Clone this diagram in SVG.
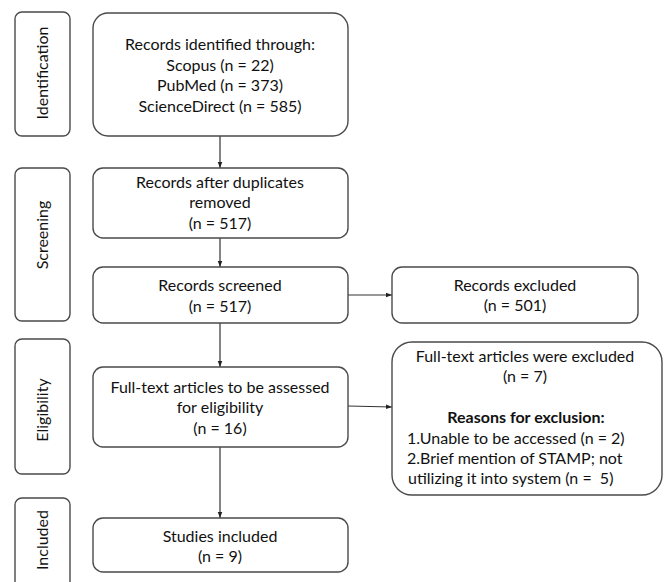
<svg xmlns="http://www.w3.org/2000/svg" width="665" height="582" viewBox="0 0 665 582">
<style>
.box{fill:#fff;stroke:#4a4a4a;stroke-width:1.4}
.t{font-family:Lato,"Open Sans",sans-serif;font-size:16px;fill:#111;text-anchor:middle}
.l{text-anchor:start}
.b{font-weight:bold}
.side{font-family:Lato,"Open Sans",sans-serif;font-size:16px;fill:#111;text-anchor:middle}
.c{stroke:#333;stroke-width:1.2;fill:none;marker-end:url(#ah)}
</style>
<defs>
<marker id="ah" viewBox="0 0 8 8" refX="8" refY="4" markerWidth="6" markerHeight="6" markerUnits="userSpaceOnUse" orient="auto">
<path d="M0,1 L8,4 L0,7 z" fill="#222"/>
</marker>
</defs>
<rect width="665" height="582" fill="#fff"/>
<g id="stage-identification">
<rect class="box" x="15" y="12" width="55" height="124" rx="7"/>
<text class="side" transform="translate(48 73) rotate(-90)">Identification</text>
</g>
<g id="stage-screening">
<rect class="box" x="15" y="168" width="55" height="153" rx="7"/>
<text class="side" transform="translate(48 235) rotate(-90)">Screening</text>
</g>
<g id="stage-eligibility">
<rect class="box" x="15" y="339" width="55" height="135" rx="7"/>
<text class="side" transform="translate(48 410) rotate(-90)">Eligibility</text>
</g>
<g id="stage-included">
<rect class="box" x="15" y="498" width="55" height="100" rx="7"/>
<text class="side" transform="translate(48 540) rotate(-90)">Included</text>
</g>
<g id="connectors">
<line class="c" x1="220" y1="136" x2="220" y2="168"/>
<line class="c" x1="220" y1="238" x2="220" y2="267"/>
<line class="c" x1="220" y1="323" x2="220" y2="367"/>
<line class="c" x1="220" y1="447" x2="220" y2="518"/>
<line class="c" x1="348" y1="295" x2="392" y2="295"/>
<line class="c" x1="348" y1="406" x2="392" y2="407"/>
</g>
<g id="identified">
<rect class="box" x="93" y="13" width="255" height="123" rx="15"/>
<text class="t" x="220" y="50">Records identified through:</text>
<text class="t" x="220" y="71">Scopus (n = 22)</text>
<text class="t" x="220" y="91">PubMed (n = 373)</text>
<text class="t" x="220" y="112">ScienceDirect (n = 585)</text>
</g>
<g id="after-duplicates">
<rect class="box" x="93" y="168" width="255" height="70" rx="10"/>
<text class="t" x="220" y="188">Records after duplicates</text>
<text class="t" x="220" y="208">removed</text>
<text class="t" x="220" y="229">(n = 517)</text>
</g>
<g id="screened">
<rect class="box" x="93" y="267" width="255" height="56" rx="10"/>
<text class="t" x="220" y="291">Records screened</text>
<text class="t" x="220" y="312">(n = 517)</text>
</g>
<g id="excluded">
<rect class="box" x="392" y="267" width="246" height="56" rx="10"/>
<text class="t" x="515" y="291">Records excluded</text>
<text class="t" x="515" y="311">(n = 501)</text>
</g>
<g id="full-text">
<rect class="box" x="93" y="367" width="255" height="80" rx="10"/>
<text class="t" x="220" y="393">Full-text articles to be assessed</text>
<text class="t" x="220" y="413">for eligibility</text>
<text class="t" x="220" y="434">(n = 16)</text>
</g>
<g id="full-text-excluded">
<rect class="box" x="392" y="342" width="270" height="153" rx="20"/>
<text class="t" x="525" y="362">Full-text articles were excluded</text>
<text class="t" x="525" y="382">(n = 7)</text>
<text class="t b" x="526" y="423">Reasons for exclusion:</text>
<text class="t l" x="407" y="444">1.Unable to be accessed (n = 2)</text>
<text class="t l" x="407" y="464">2.Brief mention of STAMP; not</text>
<text class="t l" x="408" y="484" xml:space="preserve">utilizing it into system (n =  5)</text>
</g>
<g id="included">
<rect class="box" x="93" y="518" width="255" height="54" rx="10"/>
<text class="t" x="220" y="542">Studies included</text>
<text class="t" x="220" y="562">(n = 9)</text>
</g>
</svg>
